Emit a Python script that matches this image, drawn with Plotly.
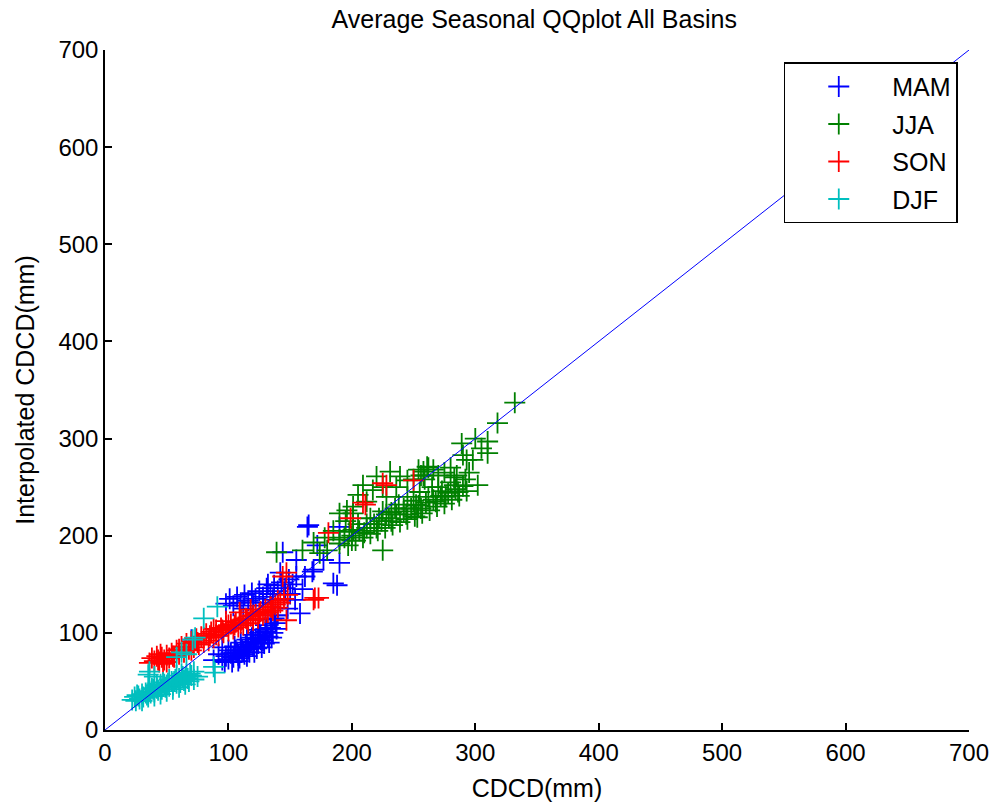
import plotly.graph_objects as go

# ---------------- data ----------------
mam_x = [95, 98, 100, 102, 104, 106, 108, 110, 112, 114, 116, 118, 120, 122, 124, 126, 128, 130, 132, 134, 136, 138,
         135, 130, 125, 120, 115, 110, 105, 100, 140, 133, 127, 121, 115, 108,
         103, 109, 113, 117, 123, 129, 135, 139, 119, 124, 131, 111, 107, 97, 126, 137,
         98, 101, 104, 107, 110, 113, 116, 119, 122, 125, 128, 131, 134, 137, 140, 143, 146, 149, 152, 155,
         112, 120, 128, 136, 145, 88, 92, 95, 70,
         164, 185, 169, 158, 144, 165, 190, 188, 168, 162, 154, 142, 177, 190, 150, 160, 172, 155, 148, 138, 132]
mam_y = [72, 76, 73, 79, 75, 82, 77, 85, 80, 88, 83, 91, 86, 94, 89, 97, 92, 101, 96, 105, 100, 110,
         114, 108, 103, 98, 93, 90, 86, 82, 118, 90, 85, 80, 76, 71,
         70, 74, 78, 80, 84, 89, 95, 104, 95, 100, 104, 82, 80, 70, 93, 115,
         130, 135, 128, 137, 131, 139, 133, 141, 135, 143, 137, 146, 140, 149, 143, 152, 146, 155, 150, 158,
         125, 128, 131, 134, 140, 72, 78, 85, 93,
         209, 151, 165, 120, 183, 211, 209, 149, 163, 158, 134, 162, 175, 172, 140, 145, 190, 175, 125, 118, 150]

jja_x = [190, 194, 197, 200, 203, 206, 209, 212, 215, 218, 221, 224, 227, 230, 233, 236, 239, 242, 245, 248, 251, 254,
         257, 260, 263, 266, 269, 272, 275, 278, 281, 284, 287, 290, 293, 250, 255, 258, 262, 256, 245, 238, 225, 215,
         205, 270, 280, 265, 235, 228,
         200, 210, 220, 232, 244, 256, 268, 276, 286, 262, 252, 242, 232, 222, 212, 198, 292, 283, 273, 258, 254, 259,
         201, 209, 217, 220, 231, 239, 245, 261, 266, 270, 275, 280, 285, 228, 236, 212, 205, 225, 250, 195, 190, 196, 201,
         139, 160, 169, 174, 180, 190, 201, 185, 178, 225, 253,
         332, 318, 310, 289, 302, 298, 293, 305, 300, 310, 295, 290, 283]
jja_y = [192, 198, 190, 200, 195, 205, 198, 208, 202, 212, 205, 215, 208, 218, 211, 222, 214, 225, 217, 228, 220, 231,
         223, 234, 226, 237, 230, 241, 233, 244, 237, 248, 241, 251, 246, 236, 245, 266, 270, 262, 240, 232, 225, 218,
         212, 250, 255, 250, 228, 222,
         195, 203, 208, 215, 222, 228, 235, 240, 245, 240, 232, 228, 224, 218, 212, 204, 258, 252, 246, 262, 268, 258,
         223, 252, 247, 261, 266, 261, 257, 271, 268, 262, 265, 270, 262, 240, 250, 235, 242, 250, 258, 215, 223, 226, 230,
         183, 185, 193, 182, 185, 196, 206, 205, 198, 185, 219,
         337, 316, 297, 295, 252, 278, 278, 290, 300, 285, 265, 283, 260]

son_x = [36, 38, 40, 42, 44, 46, 48, 50, 52, 54, 56, 58, 60, 62, 64, 66, 68, 70, 72, 74, 76, 78, 80, 82, 84, 86, 88,
         90, 92, 94, 96, 98, 100, 102, 104, 106, 108, 110, 112, 114, 116, 118, 120, 122, 124, 126, 128, 130, 132, 134,
         136, 138, 140, 142,
         65, 75, 85, 95, 105, 115, 125, 135, 70, 80, 90, 100, 110, 120, 130, 140, 60, 55, 50, 45, 145, 118, 98, 88,
         43, 47, 109, 147, 169, 147, 144, 170, 181, 199, 209, 211, 228, 250, 225, 148, 173]
son_y = [69, 74, 71, 76, 70, 75, 72, 77, 74, 79, 75, 82, 78, 86, 80, 89, 83, 91, 85, 94, 88, 96, 90, 99, 92, 101, 95,
         103, 97, 105, 100, 107, 102, 109, 104, 111, 106, 113, 108, 115, 110, 117, 113, 119, 115, 122, 118, 124, 121, 127,
         123, 129, 126, 131,
         85, 90, 97, 103, 108, 114, 120, 126, 82, 95, 98, 108, 110, 118, 121, 133, 83, 76, 70, 78, 135, 124, 112, 104,
         72, 68, 121, 113, 134, 162, 158, 136, 203, 218, 234, 232, 252, 257, 254, 139, 136]

djf_x = [22, 24, 25, 27, 28, 30, 31, 33, 34, 36, 37, 39, 40, 42, 43, 45, 46, 48, 49, 51, 52, 54, 55, 57, 58, 60, 61,
         63, 64, 66, 67, 69, 70, 72, 26, 45, 56, 65, 50, 35,
         30, 35, 40, 45, 50, 55, 60, 65, 68, 72, 75, 62, 58, 52, 47, 42, 38,
         35, 36, 58, 62, 66, 71, 73, 80, 91, 88, 89, 40]
djf_y = [31, 34, 30, 35, 32, 37, 34, 38, 36, 40, 38, 42, 39, 43, 41, 45, 42, 47, 44, 48, 45, 50, 46, 52, 48, 53, 49,
         55, 51, 57, 53, 58, 56, 60, 36, 47, 50, 54, 46, 38,
         30, 34, 35, 37, 40, 42, 44, 47, 50, 52, 55, 58, 56, 52, 49, 46, 43,
         57, 60, 75, 80, 78, 93, 95, 115, 127, 65, 59, 55]

ref_x = [0, 700]
ref_y = [0, 700]

series = [
    ("MAM", mam_x, mam_y, "#0000FF"),
    ("JJA", jja_x, jja_y, "#008000"),
    ("SON", son_x, son_y, "#FF0000"),
    ("DJF", djf_x, djf_y, "#00BFBF"),
]

FONT = "Liberation Sans, Arial, Helvetica, sans-serif"
FS = 25

fig = go.Figure()
for name, xs, ys, col in series:
    fig.add_trace(go.Scatter(
        x=xs, y=ys, mode="markers", name=name, legendgroup=name,
        marker=dict(symbol="cross-thin-open", size=15, color=col,
                    line=dict(color=col, width=1.8)),
    ))

fig.add_trace(go.Scatter(x=ref_x, y=ref_y, mode="lines", showlegend=False,
                         line=dict(color="#0000FF", width=1)))

axis_common = dict(
    range=[0, 700], dtick=100, tick0=0, showgrid=False, zeroline=False,
    showline=True, linecolor="black", linewidth=1.5,
    ticks="inside", ticklen=7, tickwidth=1.5, tickcolor="black",
    tickfont=dict(family=FONT, size=FS - 1, color="black"),
    mirror=False, fixedrange=True, ticklabeloverflow="allow", automargin=False,
)

fig.update_layout(
    width=993, height=803,
    margin=dict(l=105, r=24, t=50, b=73, autoexpand=False),
    paper_bgcolor="white", plot_bgcolor="white",
    title=dict(text="Average Seasonal QQplot All Basins", x=0.538, xanchor="center",
               y=0.976, yanchor="middle", font=dict(family=FONT, size=FS, color="black")),
    xaxis=dict(axis_common,
               title=dict(text="CDCD(mm)", standoff=15,
                          font=dict(family=FONT, size=FS, color="black"))),
    yaxis=dict(axis_common, title=dict(text="Interpolated CDCD(mm)", standoff=17,
                                       font=dict(family=FONT, size=FS, color="black"))),
    legend=dict(x=0.987, y=0.982, xanchor="right", yanchor="top",
                bgcolor="white", bordercolor="black", borderwidth=1.5,
                font=dict(family=FONT, size=FS, color="black"),
                itemwidth=97, tracegroupgap=2, traceorder="grouped"),
    showlegend=True,
)

# remove the default 8px page margin so the 993x803 figure fills the window exactly
fig.write_html("out.html", config={"displayModeBar": False},
               post_script="document.body.style.margin='0';document.body.style.overflow='hidden';")
